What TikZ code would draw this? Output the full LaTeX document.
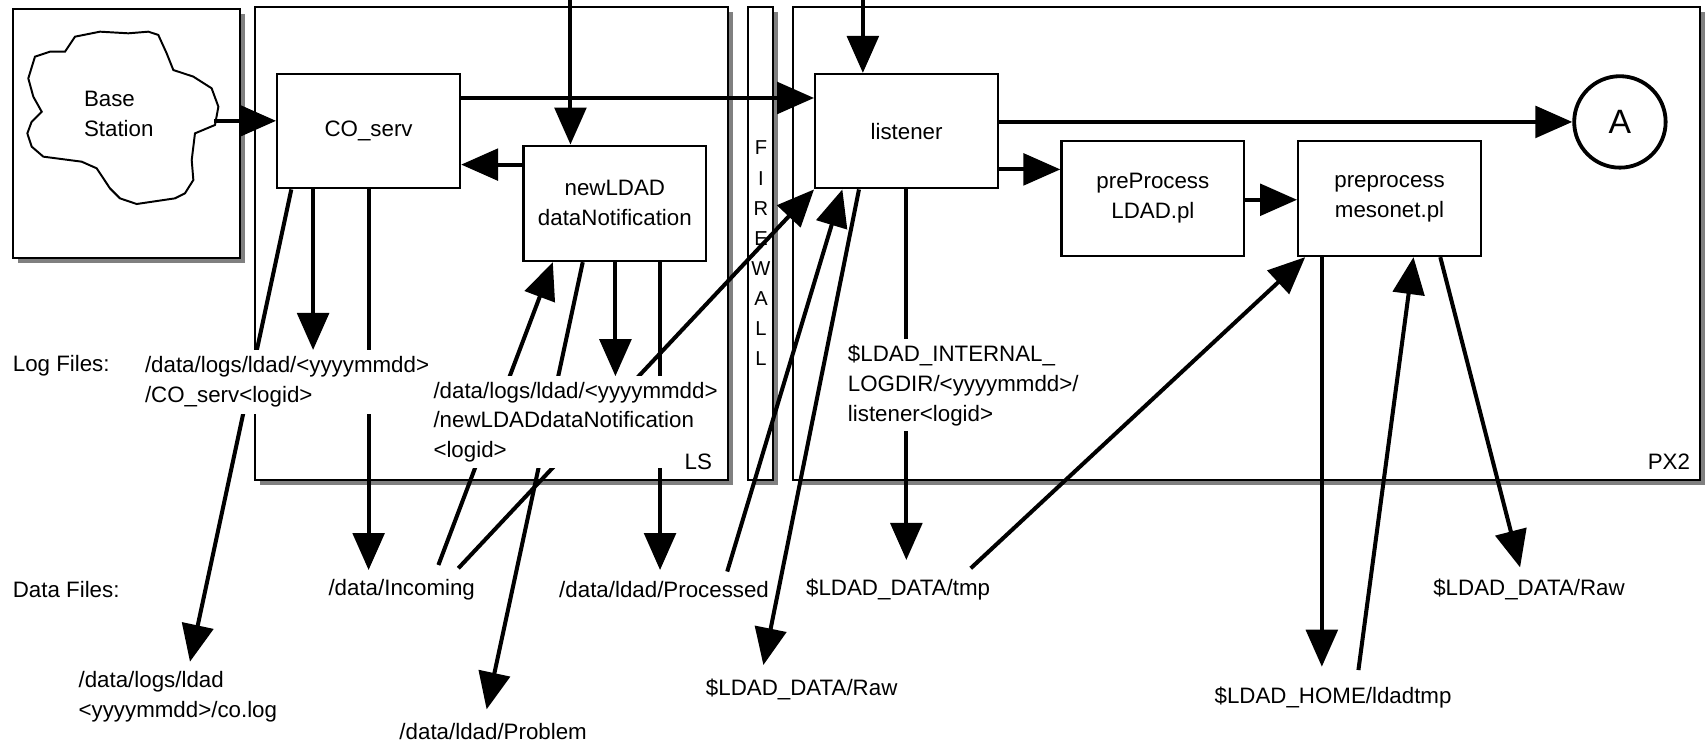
\documentclass[tikz,border=0pt]{standalone}
\usepackage{fontspec}
\setmainfont{Liberation Sans}
\usetikzlibrary{arrows.meta,shadows,calc}
\pgfdeclarelayer{front}
\pgfsetlayers{main,front}
\begin{document}
\begin{tikzpicture}[x=1pt,y=-1pt,
  txt/.style={font=\fontsize{20.5}{27.5}\selectfont, inner sep=0pt},
  procbox/.style={draw, line width=2pt, fill=white, minimum width=168pt, minimum height=105pt, align=center, font=\fontsize{20.5}{27.5}\selectfont},
  region/.style={draw, line width=2pt, fill=white, inner sep=0pt, drop shadow={shadow xshift=4.5pt, shadow yshift=-4.5pt, fill=black!50, opacity=1}},
  conn/.style={line width=3.7pt, -{Triangle[length=34pt,width=29pt]}},
  loglab/.style={fill=white, align=left, inner xsep=2pt, inner ysep=6pt, font=\fontsize{20.5}{27.5}\selectfont},
  fwletter/.style={font=\fontsize{18.5}{18.5}\selectfont, inner sep=0pt}
]
\useasboundingbox (0,0) rectangle (1568,682);

% regions
\node[region, minimum width=208.3pt, minimum height=228.7pt] (base) at (116.35,122.95) {};
\node[region, minimum width=434.5pt, minimum height=434.9pt] (LS) at (451.55,223.55) {};
\node[region, minimum width=23.2pt, minimum height=434.9pt] (FW) at (698.7,223.55) {};
\node[region, minimum width=833.2pt, minimum height=434.9pt] (PX) at (1145.1,223.55) {};

\node[txt] (pxlab) at (1533,424) {PX2};
\foreach \l [count=\i from 0] in {F,I,R,E,W,A,L,L}
  \node[fwletter] (fw\i) at (699,136+27.6*\i) {\l};

% cloud
\draw[line width=1.8pt, fill=white]
 (68.9,33.7) -- (91.9,29.1) -- (117.9,30.6) -- (136.3,29.1) -- (145.4,32.1) -- (153.1,49) --
 (159.2,64.3) -- (177.6,70.4) -- (194.4,81.1) -- (200.6,98) -- (197.5,114.8) -- (179.1,122.5) --
 (176.1,147) -- (177.6,165.3) -- (169.9,177.6) -- (160.7,182.2) -- (125.5,187.4) -- (110.2,182.2) --
 (101,173) -- (88.8,154.6) -- (75,148.5) -- (39.8,143.9) -- (29.1,134.7) -- (25.1,122.5) --
 (29.1,111.8) -- (38.3,102.6) -- (30.6,88.8) -- (26,72) -- (32.1,52.1) -- (45.9,47.5) --
 (59.7,47.5) -- cycle;
\node[txt, align=left, anchor=west] (bstxt) at (77,104.5) {Base\\Station};

% process boxes
\node[procbox] (CO) at (338.6,120.5) {CO\_serv};
\node[procbox, minimum height=106pt] (nl) at (564.8,186.8) {newLDAD\\dataNotification};
\node[procbox] (li) at (832.75,120.5) {listener};
\node[procbox, minimum height=105.7pt] (pre) at (1059,182.35) {preProcess\\LDAD.pl};
\node[procbox, minimum height=105.7pt] (meso) at (1276.4,182.35) {preprocess\\mesonet.pl};
\node[draw, circle, line width=3.5pt, minimum size=84pt, inner sep=0pt, fill=white,
      font=\fontsize{31}{31}\selectfont] (A) at (1488,112) {A};

% labels
\node[txt, anchor=west] (logf) at (11.6,336) {Log Files:};
\node[txt, anchor=west] (dataf) at (11.6,541.5) {Data Files:};
\node[txt] (inc) at (369,541.5) {/data/Incoming};
\node[txt] (proc) at (610,541.5) {/data/ldad/Processed};
\node[txt] (tmp) at (825,541.5) {\$LDAD\_DATA/tmp};
\node[txt] (raw2) at (1404.5,541.5) {\$LDAD\_DATA/Raw};
\node[txt, align=left, anchor=west] (colog) at (72,640) {/data/logs/ldad\\<yyyymmdd>/co.log};
\node[txt] (prob) at (453,671.5) {/data/ldad/Problem};
\node[txt] (raw1) at (736.4,633.3) {\$LDAD\_DATA/Raw};
\node[txt] (ldt) at (1224.5,641) {\$LDAD\_HOME/ldadtmp};

\begin{pgfonlayer}{front}
\node[loglab, anchor=west] (colab) at (131,351) {/data/logs/ldad/<yyyymmdd>\\/CO\_serv<logid>};
\node[loglab, anchor=west, inner ysep=5pt] (nllab) at (396,387.8) {/data/logs/ldad/<yyyymmdd>\\/newLDADdataNotification\\<logid>};
\node[loglab, anchor=west, inner ysep=5pt] (lilab) at (776.7,354) {\$LDAD\_INTERNAL\_\\LOGDIR/<yyyymmdd>/\\listener<logid>};
\node[txt] (lslab) at (641.5,424) {LS};
\end{pgfonlayer}

% top connectors
\coordinate (cloudR) at (196.5,111);
\draw[conn] (cloudR) -- (CO.west |- cloudR);
\coordinate (top1) at (524,0);
\draw[conn] (top1) -- (top1 |- nl.north);
\coordinate (top2) at (792.6,0);
\draw[conn] (top2) -- (top2 |- li.north);
\coordinate (d1) at ($(CO.north east)+(0,23)$);
\draw[conn] (d1) -- (li.west |- d1);
\coordinate (e1) at ($(nl.north west)+(0,18.4)$);
\draw[conn] (e1) -- (CO.east |- e1);
\draw[conn] (li.east |- A.west) -- (A.west);
\coordinate (g1) at ($(li.south east)+(0,-18.4)$);
\draw[conn] (g1) -- (pre.west |- g1);
\coordinate (h1) at ($(pre.north east)+(0,55)$);
\draw[conn] (h1) -- (meso.west |- h1);

% CO_serv bottom
\coordinate (co1) at ($(CO.south west)+(14,0)$);
\coordinate (co2) at ($(CO.south west)+(34,0)$);
\coordinate (co3) at ($(CO.south west)+(85,0)$);
\coordinate (cologtip) at (174.5,607.8);
\coordinate (inctip) at (339,523.6);
\draw[conn] (co1) -- (cologtip);
\draw[conn] (co2) -- (co2 |- colab.north);
\draw[conn] (co3) -- (co3 |- inctip);

% newLDAD bottom
\coordinate (inc1) at (402.7,519);
\coordinate (inc2) at (421,522);
\draw[conn] (inc1) -- ($(nl.south west)+(28,0)$);
\draw[conn] (inc2) -- (li.south west);
\coordinate (nlb1) at ($(nl.south west)+(55.5,0)$);
\coordinate (probtip) at (447,651.6);
\draw[conn] (nlb1) -- (probtip);
\coordinate (nlb2) at ($(nl.south west)+(85.5,0)$);
\draw[conn] (nlb2) -- (nlb2 |- nllab.north);
\coordinate (nlb3) at ($(nl.south west)+(126.5,0)$);
\coordinate (proctip) at (607.5,523.6);
\draw[conn] (nlb3) -- (nlb3 |- proctip);

% listener bottom
\coordinate (proc1) at (668,525);
\draw[conn] (proc1) -- ($(li.south west)+(26,0)$);
\coordinate (lib1) at ($(li.south west)+(41.3,0)$);
\coordinate (raw1tip) at (701.2,610.9);
\draw[conn] (lib1) -- (raw1tip);
\coordinate (lib2) at ($(li.south west)+(84.8,0)$);
\coordinate (tmptip) at (833.5,514.4);
\draw[conn] (lib2) -- (lib2 |- tmptip);

% mesonet bottom
\coordinate (tmp1) at (891.7,522);
\draw[conn] (tmp1) -- ($(meso.south west)+(7.5,0)$);
\coordinate (mb1) at ($(meso.south west)+(22.8,0)$);
\coordinate (ldttip) at (1215.6,612.4);
\draw[conn] (mb1) -- (mb1 |- ldttip);
\coordinate (ldt1) at (1247.8,615.5);
\draw[conn] (ldt1) -- ($(meso.south west)+(107,0)$);
\coordinate (mb2) at ($(meso.south west)+(131.6,0)$);
\coordinate (raw2tip) at (1396.3,521.2);
\draw[conn] (mb2) -- (raw2tip);
\end{tikzpicture}
\end{document}
